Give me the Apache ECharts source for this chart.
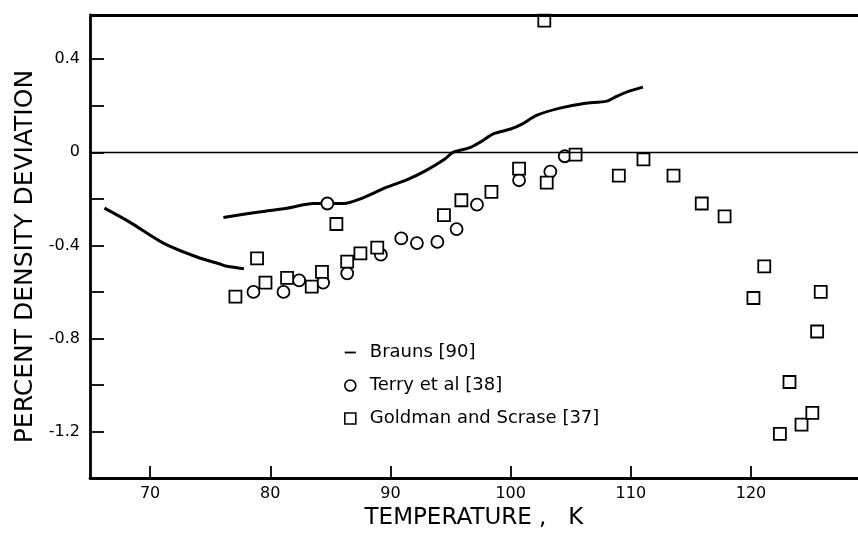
<!DOCTYPE html>
<html>
<head>
<meta charset="utf-8">
<script src="https://cdn.jsdelivr.net/npm/echarts@6/dist/echarts.min.js"></script>
<style>
html, body { margin: 0; padding: 0; background: #fff; }
#chart { width: 858px; height: 535px; }
</style>
</head>
<body>
<div id="chart"></div>
<script>
'use strict';

// Brauns [90], drawn as two separate smooth pieces
var braunsLowT = [66.2, 68.3, 71.1, 73.9, 75.8, 76.4, 77.8];
var braunsLowV = [-0.24, -0.30, -0.39, -0.45, -0.48, -0.49, -0.50];
var braunsHighT = [76.1, 78.6, 81.4, 83.6, 84.8, 86.1, 87.5, 89.7, 91.3, 92.9, 94.5, 95.2, 96.6, 97.5, 98.6, 100.0, 100.9, 102.2, 104.1, 106.1, 108.0, 108.8, 109.7, 111.0];
var braunsHighV = [-0.28, -0.26, -0.24, -0.22, -0.22, -0.22, -0.20, -0.15, -0.12, -0.08, -0.03, 0.0, 0.02, 0.045, 0.08, 0.10, 0.12, 0.16, 0.19, 0.21, 0.22, 0.24, 0.26, 0.28];

// Terry et al [38]
var terryT = [78.6, 81.1, 82.4, 84.4, 84.75, 86.4, 89.2, 90.9, 92.2, 93.9, 95.5, 97.2, 100.7, 103.3, 104.5];
var terryV = [-0.60, -0.60, -0.55, -0.56, -0.22, -0.52, -0.44, -0.37, -0.39, -0.385, -0.33, -0.225, -0.12, -0.083, -0.017];

// Goldman and Scrase [37]
var goldT = [77.1, 78.9, 79.6, 81.4, 83.45, 84.3, 85.5, 86.4, 87.5, 88.9, 94.45, 95.9, 98.4, 100.7, 102.8, 103.0, 105.4, 109.0, 111.05, 113.55, 115.9, 117.8, 120.2, 121.1, 122.4, 123.2, 124.2, 125.1, 125.5, 125.8];
var goldV = [-0.62, -0.456, -0.56, -0.54, -0.577, -0.514, -0.308, -0.47, -0.434, -0.41, -0.27, -0.206, -0.17, -0.07, 0.566, -0.13, -0.01, -0.10, -0.03, -0.10, -0.22, -0.275, -0.626, -0.49, -1.21, -0.987, -1.17, -1.12, -0.77, -0.60];

// ticks
var xTicks = [70, 80, 90, 100, 110, 120];
var yTicks = [-1.2, -1.0, -0.8, -0.6, -0.4, -0.2, 0, 0.2, 0.4];
var yLabels = [-1.2, -0.8, -0.4, 0, 0.4];

var xMin = 65, xMax = 128.9;
var yMin = -1.4, yMax = 0.59;

var font = 'DejaVu Sans';

var pairs = function (xs, ys) {
    var out = [];
    for (var i = 0; i < xs.length; i++) {
        out.push([xs[i], ys[i]]);
    }
    return out;
};

var chart = echarts.init(document.getElementById('chart'), null, { renderer: 'canvas' });

var dashIcon = 'path://M0,0M0,5H12V7H0ZM12,12';

chart.setOption({
    animation: false,
    backgroundColor: '#fff',
    textStyle: { fontFamily: font, color: '#000' },
    grid: { left: 90, right: 0, top: 15, bottom: 52 },
    legend: {
        orient: 'vertical',
        left: 339,
        top: 337,
        itemWidth: 11,
        itemHeight: 11,
        itemGap: 12,
        selectedMode: false,
        textStyle: { fontFamily: font, fontSize: 18, color: '#000', lineHeight: 21, padding: [0, 0, 0, 9] },
        data: [
            { name: 'Brauns [90]', icon: dashIcon, itemStyle: { color: '#000', borderWidth: 0 } },
            { name: 'Terry et al [38]', icon: 'circle', itemStyle: { color: '#fff', borderColor: '#000', borderWidth: 1.6 } },
            { name: 'Goldman and Scrase [37]', icon: 'rect', itemStyle: { color: '#fff', borderColor: '#000', borderWidth: 1.6 } }
        ]
    },
    xAxis: [
        {
            type: 'value',
            min: xMin,
            max: xMax,
            name: 'TEMPERATURE ,   K',
            nameLocation: 'middle',
            nameGap: 27,
            nameTextStyle: { fontFamily: font, fontSize: 23, color: '#000' },
            axisLine: { show: true, onZero: false, lineStyle: { color: '#000', width: 2.8 } },
            axisTick: { show: false },
            axisLabel: {
                customValues: xTicks, fontSize: 16, color: '#000', margin: 8,
                formatter: function (v) { return String(v); }
            },
            splitLine: { show: false }
        },
        {
            // ticks only: sits on the zero of the helper y axis, i.e. the bottom edge
            type: 'value',
            min: xMin,
            max: xMax,
            axisLine: { show: false, onZero: true, onZeroAxisIndex: 1 },
            axisTick: {
                show: true, inside: false, length: 12, customValues: xTicks,
                lineStyle: { color: '#000', width: 1.8 }
            },
            axisLabel: { show: false },
            splitLine: { show: false }
        }
    ],
    yAxis: [
        {
            type: 'value',
            min: yMin,
            max: yMax,
            name: 'PERCENT DENSITY DEVIATION',
            nameLocation: 'middle',
            nameGap: 50,
            nameTextStyle: { fontFamily: font, fontSize: 25, color: '#000', padding: [0, 20, 0, 0] },
            axisLine: { show: true, onZero: false, lineStyle: { color: '#000', width: 2.8 } },
            axisTick: {
                show: true, inside: true, length: 14, customValues: yTicks,
                lineStyle: { color: '#000', width: 1.8 }
            },
            axisLabel: {
                customValues: yLabels, fontSize: 16, color: '#000', margin: 10,
                formatter: function (v) {
                    return Math.abs(v) < 1e-9 ? '0' : v.toFixed(1);
                }
            },
            splitLine: { show: false }
        },
        {
            // helper axis, its zero is the bottom of the frame
            type: 'value',
            min: 0,
            max: 1,
            show: false
        }
    ],
    series: [
        {
            name: 'Brauns [90]',
            type: 'line',
            data: pairs(braunsLowT, braunsLowV),
            smooth: 0.3,
            symbol: 'none',
            lineStyle: { color: '#000', width: 3 },
            itemStyle: { color: '#000' },
            z: 2
        },
        {
            name: 'Brauns [90]',
            type: 'line',
            data: pairs(braunsHighT, braunsHighV),
            smooth: 0.3,
            symbol: 'none',
            lineStyle: { color: '#000', width: 3 },
            itemStyle: { color: '#000' },
            markLine: {
                silent: true,
                symbol: ['none', 'none'],
                label: { show: false },
                data: [
                    // zero line
                    { yAxis: 0, lineStyle: { color: '#000', width: 1.3, type: 'solid' } },
                    // top edge of the frame
                    { yAxis: yMax, lineStyle: { color: '#000', width: 2.8, type: 'solid' } }
                ]
            },
            z: 2
        },
        {
            name: 'Terry et al [38]',
            type: 'scatter',
            data: pairs(terryT, terryV),
            symbol: 'circle',
            symbolSize: 12,
            clip: false,
            itemStyle: { color: '#fff', borderColor: '#000', borderWidth: 1.8, opacity: 1 },
            z: 3
        },
        {
            name: 'Goldman and Scrase [37]',
            type: 'scatter',
            data: pairs(goldT, goldV),
            symbol: 'rect',
            symbolSize: 12,
            clip: false,
            itemStyle: { color: '#fff', borderColor: '#000', borderWidth: 1.8, opacity: 1 },
            z: 4
        }
    ]
});

window.addEventListener('resize', function () {
    chart.resize();
});
</script>
</body>
</html>
